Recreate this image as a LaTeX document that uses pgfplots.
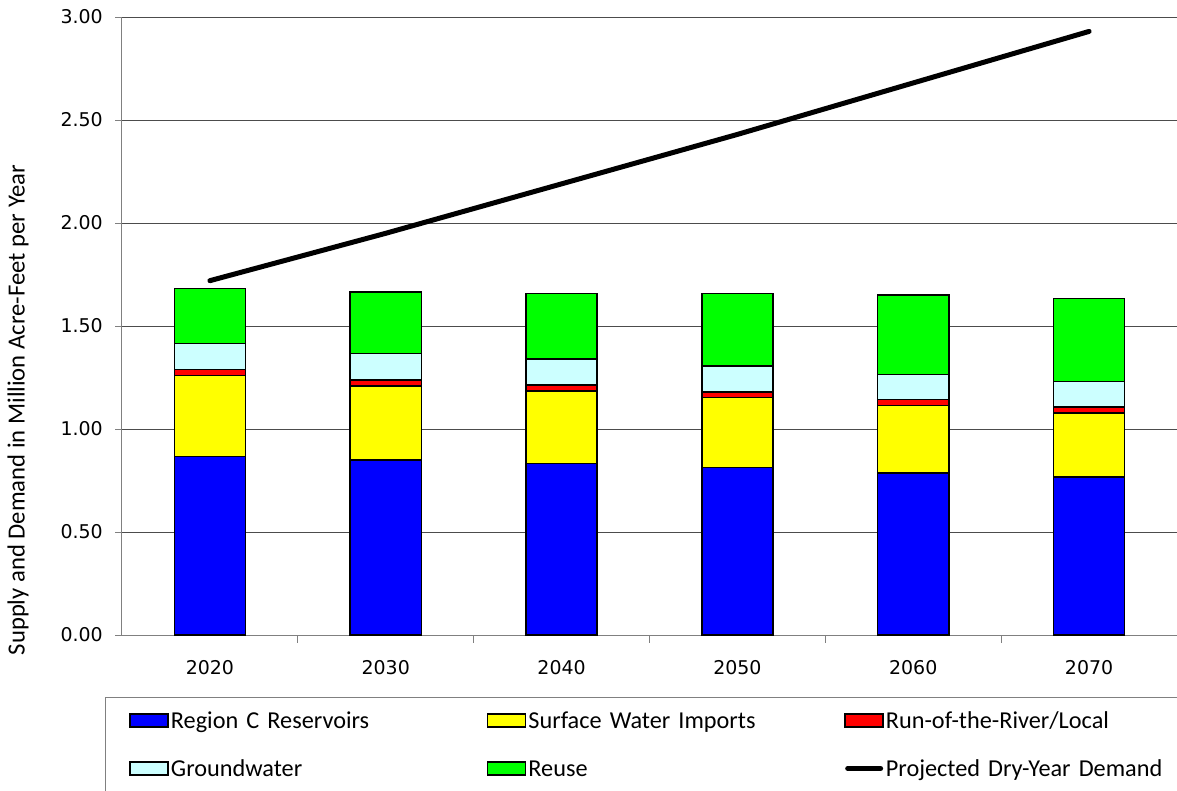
\documentclass[border=0pt]{standalone}
\usepackage{pgfplots}
\pgfplotsset{compat=1.18}
\usepackage{fontspec}
\setmainfont{Carlito}
\newfontfamily\tickfont{DejaVu Sans}
\definecolor{cBlue}{HTML}{0000FF}
\definecolor{cYellow}{HTML}{FFFF00}
\definecolor{cRed}{HTML}{FF0000}
\definecolor{cCyan}{HTML}{CCFFFF}
\definecolor{cGreen}{HTML}{00FF00}
\pgfplotsset{
  basechart/.style={
    scale only axis, width=791.25pt, height=463.5pt,
    xmin=-0.5, xmax=5.5, ymin=0, ymax=3, enlargelimits=false,
  }
}
\begin{document}
\begin{tikzpicture}
\useasboundingbox (-91.5pt,-116.25pt) rectangle (791.25pt,476.25pt);
\begin{axis}[basechart,
  ybar stacked, bar width=0.404, clip=false,
  axis x line*=bottom, axis y line*=left,
  axis line style={gray, line width=0.75pt},
  xtick={0,1,2,3,4,5},
  xticklabels={2020,2030,2040,2050,2060,2070},
  ytick={0,0.5,1,1.5,2,2.5,3},
  major tick length=0pt,
  ymajorgrids, major grid style={black!70, line width=0.75pt},
  yticklabel style={font=\tickfont\fontsize{14.2pt}{17pt}\selectfont, inner sep=0pt, anchor=east, xshift=-14.25pt},
  xticklabel style={font=\tickfont\fontsize{14.2pt}{17pt}\selectfont, inner sep=0pt, anchor=north, yshift=-18.75pt},
  ylabel={Supply and Demand in Million Acre-Feet per Year},
  ylabel style={font=\fontsize{18.5pt}{22pt}\selectfont, at={(axis description cs:-0.0986,0.364)}, anchor=center, rotate=0},
  every axis plot/.append style={draw=black, line width=1.1pt},
  legend image code/.code={\draw[#1] (0pt,-5pt) rectangle (28.5pt,5pt);},
  legend columns=3,
  legend style={at={(axis description cs:0,0)}, anchor=north west, xshift=-12.75pt, yshift=-46.5pt,
    draw=gray, line width=0.75pt, inner xsep=18pt, inner ysep=5.25pt,
    font=\fontsize{18.2pt}{22pt}\selectfont, column sep=0pt, row sep=12pt,
    /tikz/every odd column/.append style={column sep=1.5pt},
    nodes={inner sep=0pt, text width=237pt, align=left, minimum height=24pt, text height=12pt, text depth=0pt, anchor=west}},
  /pgf/number format/fixed, /pgf/number format/fixed zerofill, /pgf/number format/precision=2,
  /pgf/number format/assume math mode=true,
]
\addplot[fill=cBlue] coordinates {(0,0.866) (1,0.850) (2,0.833) (3,0.812) (4,0.786) (5,0.767)};
\addlegendentry{Region C Reservoirs}
\addplot[fill=cYellow] coordinates {(0,0.393) (1,0.359) (2,0.351) (3,0.340) (4,0.327) (5,0.311)};
\addlegendentry{Surface Water Imports}
\addplot[fill=cRed] coordinates {(0,0.031) (1,0.029) (2,0.030) (3,0.028) (4,0.029) (5,0.029)};
\addlegendentry{Run-of-the-River/Local}
\addplot[fill=cCyan] coordinates {(0,0.126) (1,0.128) (2,0.126) (3,0.126) (4,0.122) (5,0.124)};
\addlegendentry{Groundwater}
\addplot[fill=cGreen] coordinates {(0,0.267) (1,0.299) (2,0.319) (3,0.353) (4,0.386) (5,0.402)};
\addlegendentry{Reuse}
\addlegendimage{legend image code/.code={\draw[black, line width=3.75pt, line cap=round] (1.9pt,0pt) -- (26.6pt,0pt);}}
\addlegendentry{Projected Dry-Year Demand}
\pgfplotsinvokeforeach{0.5,1.5,2.5,3.5,4.5}{
  \draw[gray, line width=0.75pt] (axis cs:#1,0) -- ++(0pt,-6pt);
}
\pgfplotsinvokeforeach{0,0.5,1,1.5,2,2.5,3}{
  \draw[gray, line width=0.75pt] (axis cs:-0.5,#1) -- ++(-5.25pt,0pt);
}
\end{axis}
\begin{axis}[basechart, hide axis]
\addplot[black, line width=3.75pt, line cap=round] coordinates {(0,1.72) (1,1.95) (2,2.19) (3,2.43) (4,2.68) (5,2.93)};
\end{axis}
\end{tikzpicture}
\end{document}
